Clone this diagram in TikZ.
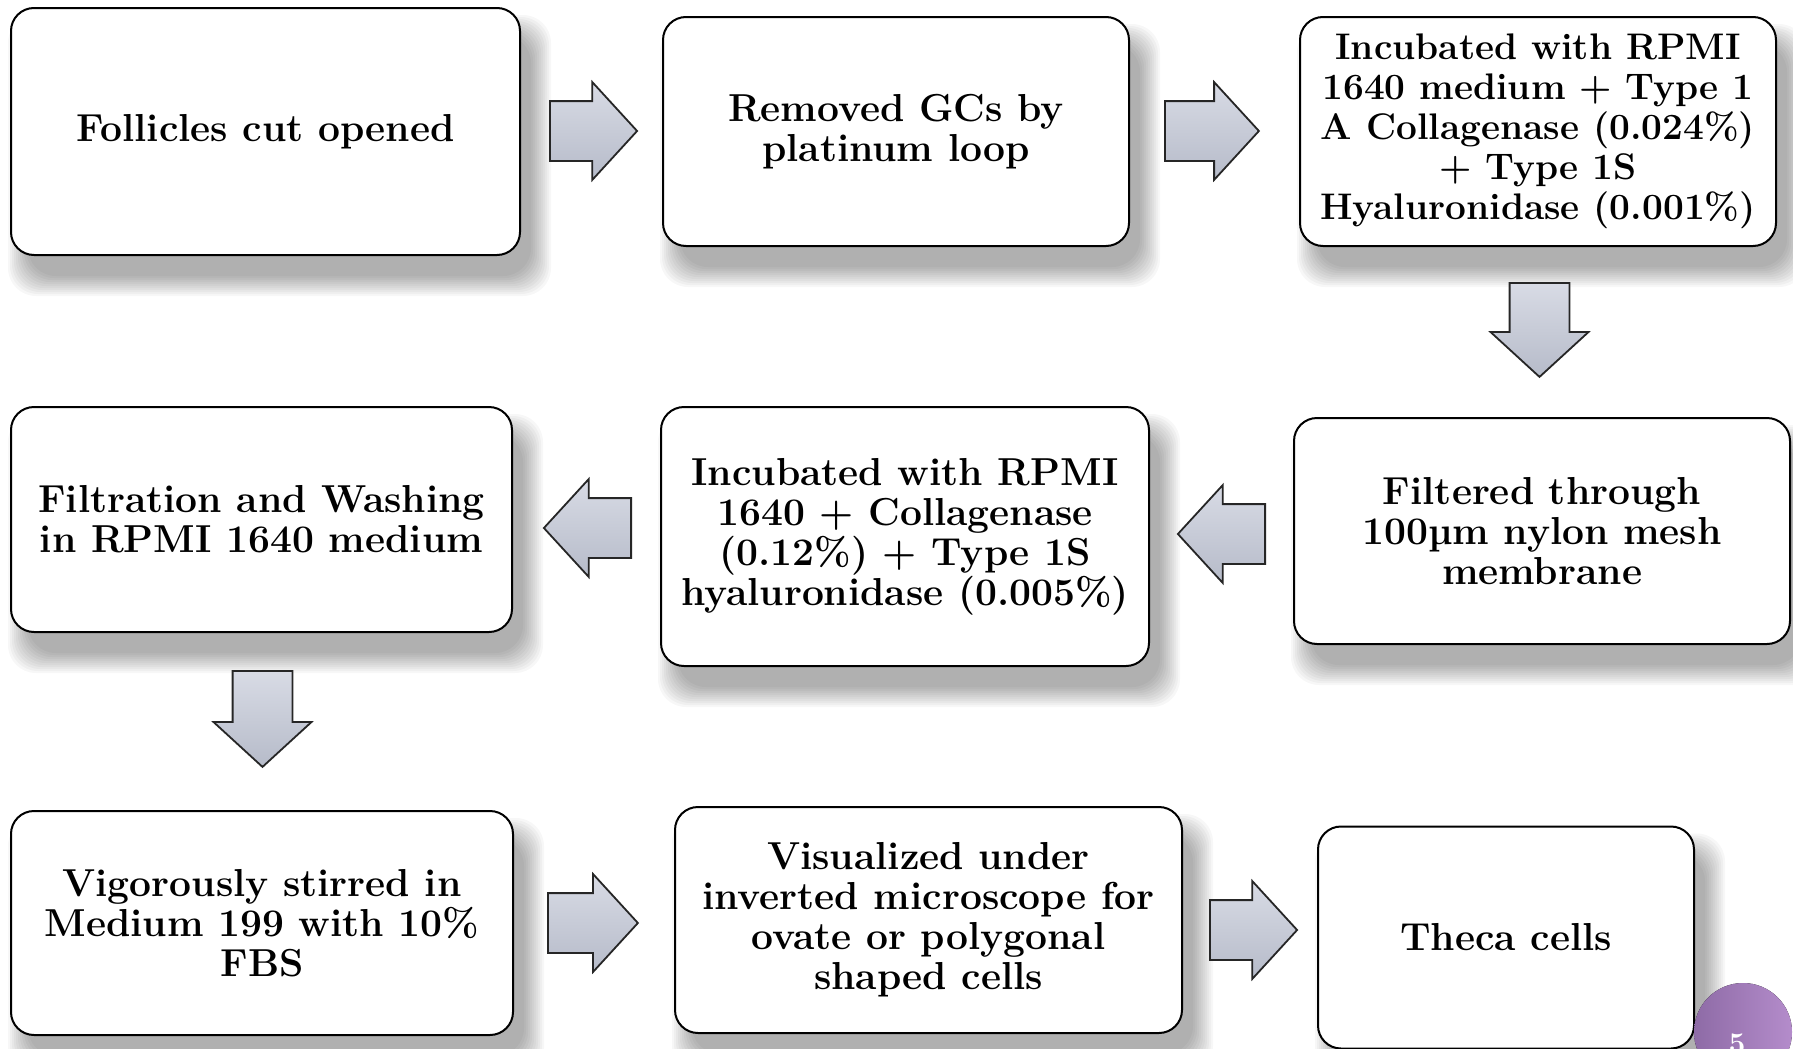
\documentclass[tikz,border=0pt]{standalone}
\usetikzlibrary{shapes.arrows,backgrounds}
\definecolor{arrowtop}{HTML}{D8DBE5}
\definecolor{arrowbot}{HTML}{B6BBC9}
\definecolor{purpL}{HTML}{8E6BA6}
\definecolor{purpR}{HTML}{B48CCB}
\tikzset{
  stepbox/.style={draw=black, line width=1pt, rounded corners=11.5pt, fill=white, align=center, inner sep=0pt, font=\fontsize{19.5}{20}\selectfont\bfseries},
  blockarrow/.style={single arrow, draw=black!85, line width=0.9pt, top color=arrowtop, bottom color=arrowbot, inner sep=14.5pt, single arrow head extend=9.5pt, single arrow tip angle=95, anchor=tail},
}
\begin{document}
\begin{tikzpicture}[x=0.5pt,y=-0.5pt]
\useasboundingbox (0,0) rectangle (1793,1049);
\clip (0,0) rectangle (1793,1049);
\node[stepbox, minimum width=254.5pt, minimum height=123.5pt] (b1) at (265.5,131.5) {Follicles cut opened};
\node[stepbox, minimum width=233pt, minimum height=114.5pt] (b2) at (896,131.5) {Removed GCs by\\platinum loop};
\node[stepbox, minimum width=238pt, minimum height=114.5pt, font=\fontsize{18.5}{20}\selectfont\bfseries] (b3) at (1538,131.5) {Incubated with RPMI\\1640 medium + Type 1\\A Collagenase (0.024\%)\\+ Type 1S\\Hyaluronidase (0.001\%)};
\node[stepbox, minimum width=248pt, minimum height=113pt] (b4) at (1542,531) {Filtered through\\100µm nylon mesh\\membrane};
\node[stepbox, minimum width=244pt, minimum height=129.5pt] (b5) at (905,536.5) {Incubated with RPMI\\1640 + Collagenase\\(0.12\%) + Type 1S\\hyaluronidase (0.005\%)};
\node[stepbox, minimum width=250.5pt, minimum height=112.5pt] (b6) at (261.5,519.5) {Filtration and Washing\\in RPMI 1640 medium};
\node[stepbox, minimum width=251pt, minimum height=112pt] (b7) at (262,923) {Vigorously stirred in\\Medium 199 with 10\%\\FBS};
\node[stepbox, minimum width=253.5pt, minimum height=113pt] (b8) at (928.5,920) {Visualized under\\inverted microscope for\\ovate or polygonal\\shaped cells};
\node[stepbox, minimum width=188pt, minimum height=111pt] (b9) at (1506,937.5) {Theca cells};

\node[blockarrow, minimum height=40pt] (a1) at (549,131) {};
\node[blockarrow, minimum height=47pt] (a2) at (1164,131) {};
\node[blockarrow, minimum height=47pt, shape border rotate=270] (a3) at (1539.5,282) {};
\node[blockarrow, minimum height=41pt, shape border rotate=180] (a4) at (1266,534) {};
\node[blockarrow, minimum height=42pt, shape border rotate=180] (a5) at (632,528) {};
\node[blockarrow, minimum height=48pt, shape border rotate=270] (a6) at (262.5,670) {};
\node[blockarrow, minimum height=45pt] (a7) at (547,923) {};
\node[blockarrow, minimum height=38.5pt] (a8) at (1209,930) {};

\begin{scope}[on background layer]
\fill[white] (0,0) rectangle (1793,1049);
\foreach \i in {1,...,9} {
  \foreach \d in {-2,...,8} {
    \fill[black, opacity=0.032, rounded corners=14pt]
      ([xshift={(7-\d)*1pt}, yshift={(-12+\d)*1pt}]b\i.north west) rectangle
      ([xshift={(7+\d)*1pt}, yshift={(-12-\d)*1pt}]b\i.south east);
  }
}
\end{scope}

\fill[left color=purpL, right color=purpR] (1743,1032) circle (24.5pt);
\node[anchor=base, text=white, inner sep=0pt, font=\fontsize{15}{15}\selectfont\bfseries] (pg) at (1737,1053) {5};
\end{tikzpicture}
\end{document}
